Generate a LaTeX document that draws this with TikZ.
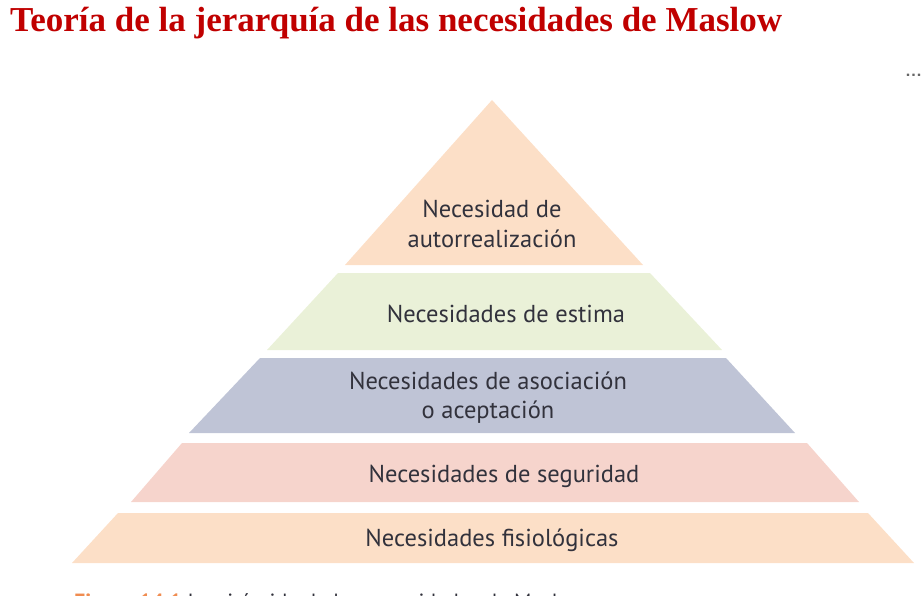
\documentclass[tikz,border=0pt]{standalone}
\usepackage{fontspec}
\setmainfont{Liberation Serif}
\newfontfamily\pyrfont{PT Sans}
\definecolor{titlered}{RGB}{192,0,0}
\definecolor{peach}{RGB}{252,223,199}
\definecolor{sage}{RGB}{234,241,216}
\definecolor{slate}{RGB}{191,196,214}
\definecolor{rose}{RGB}{246,212,204}
\definecolor{txtgray}{RGB}{50,50,60}
\definecolor{capor}{RGB}{240,140,80}
\begin{document}
\begin{tikzpicture}[x=1pt,y=-1pt,
  lbl/.style={font=\pyrfont\fontsize{24.5}{30}\selectfont,text=txtgray,align=center,inner sep=0pt,anchor=base}]
\useasboundingbox (0,0) rectangle (923,596);
% title
\node[anchor=base west,inner sep=0pt,text=titlered,font=\fontsize{35}{40}\selectfont\bfseries] (title) at (10,32) {Teoría de la jerarquía de las necesidades de Maslow};
\node[anchor=base east,inner sep=0pt,text=gray!80!black,font=\sffamily\bfseries\fontsize{18}{18}\selectfont] (dots) at (922,77) {...};
% pyramid
\fill[peach] (492,100) -- (643,265) -- (345,265) -- cycle;
\fill[sage] (338,273) -- (650,273) -- (722,350) -- (267,350) -- cycle;
\fill[slate] (260,358) -- (726,358) -- (795,433) -- (189,433) -- cycle;
\fill[rose] (182,443) -- (807,443) -- (859,502) -- (131,502) -- cycle;
\fill[peach] (118,513) -- (868,513) -- (914,563) -- (72,563) -- cycle;
% labels
\node[lbl] (l1a) at (492,217) {Necesidad de};
\node[lbl] (l1b) at (492,247) {autorrealización};
\node[lbl] (l2) at (506,322) {Necesidades de estima};
\node[lbl] (l3a) at (488,389) {Necesidades de asociación};
\node[lbl] (l3b) at (488,418) {o aceptación};
\node[lbl] (l4) at (504,482) {Necesidades de seguridad};
\node[lbl] (l5) at (492,546) {Necesidades fisiológicas};
% clipped caption
\begin{scope}
\clip (0,580) rectangle (923,596);
\node[anchor=base west,inner sep=0pt,font=\pyrfont\fontsize{22}{24}\selectfont,text=txtgray] (cap) at (74,609) {\textcolor{capor}{\bfseries Figura 14.1} La pirámide de las necesidades de Maslow};
\end{scope}
\end{tikzpicture}
\end{document}
